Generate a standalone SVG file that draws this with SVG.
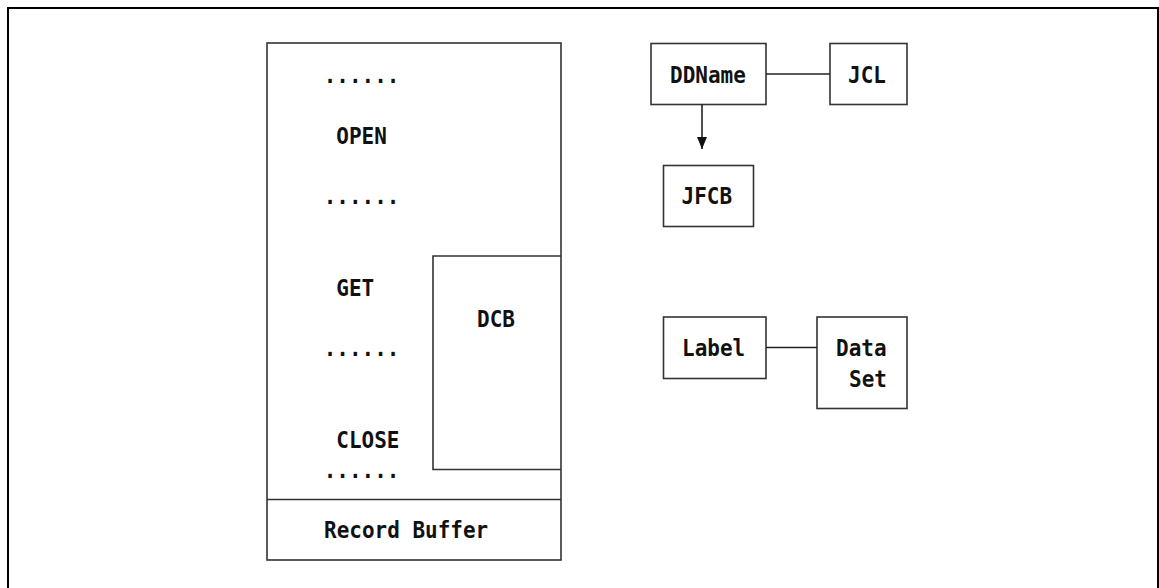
<svg xmlns="http://www.w3.org/2000/svg" width="1159" height="588" viewBox="0 0 1159 588">
<style>
.frame{fill:none;stroke:#000;stroke-width:2}
.box{fill:none;stroke:#333;stroke-width:1.6}
.ln{fill:none;stroke:#222;stroke-width:1.6}
text{font-family:"DejaVu Sans Mono","Liberation Mono",monospace;font-weight:bold;font-size:21px;fill:#111}
</style>
<defs>
<marker id="arr" markerWidth="12" markerHeight="10" refX="12" refY="5" orient="auto" markerUnits="userSpaceOnUse" viewBox="0 0 12 10">
<path d="M0,0 L12,5 L0,10 Z" fill="#111"/>
</marker>
</defs>
<rect width="1159" height="588" fill="#fff"/>
<path class="frame" d="M8,600 L8,8 L1158,8 L1158,600"/>

<g id="program">
<rect class="box" x="267" y="43" width="294" height="517"/>
<line class="box" x1="267" y1="499.5" x2="561" y2="499.5"/>
<text transform="translate(323.7,83) scale(1,1.12)">......</text>
<text transform="translate(336.3,144) scale(1,1.12)">OPEN</text>
<text transform="translate(323.7,204) scale(1,1.12)">......</text>
<text transform="translate(336.3,296) scale(1,1.12)">GET</text>
<text transform="translate(323.7,356) scale(1,1.12)">......</text>
<text transform="translate(336.3,448) scale(1,1.12)">CLOSE</text>
<text transform="translate(323.7,478) scale(1,1.12)">......</text>
</g>
<g id="recordbuffer">
<text transform="translate(324,538) scale(1,1.12)">Record Buffer</text>
</g>
<g id="dcb">
<path class="box" d="M561,256 L433,256 L433,469.5 L561,469.5"/>
<text transform="translate(477,327) scale(1,1.12)">DCB</text>
</g>
<g id="ddname">
<rect class="box" x="651" y="43.5" width="115" height="61"/>
<text transform="translate(670,83) scale(1,1.12)">DDName</text>
</g>
<g id="jcl">
<rect class="box" x="830" y="43.5" width="77" height="61"/>
<text transform="translate(848,83) scale(1,1.12)">JCL</text>
</g>
<g id="jfcb">
<rect class="box" x="663.5" y="165.5" width="90" height="61"/>
<text transform="translate(681.5,204) scale(1,1.12)">JFCB</text>
</g>
<g id="label">
<rect class="box" x="663.5" y="317" width="102.5" height="61.5"/>
<text transform="translate(682,356) scale(1,1.12)">Label</text>
</g>
<g id="dataset">
<rect class="box" x="817" y="317" width="90" height="91.5"/>
<text transform="translate(836,356) scale(1,1.12)">Data</text>
<text transform="translate(849,387) scale(1,1.12)">Set</text>
</g>
<g id="connectors">
<line class="ln" x1="766" y1="74" x2="830" y2="74"/>
<line class="ln" x1="702" y1="104.5" x2="702" y2="149" marker-end="url(#arr)"/>
<line class="ln" x1="766" y1="347.5" x2="817" y2="347.5"/>
</g>
</svg>
